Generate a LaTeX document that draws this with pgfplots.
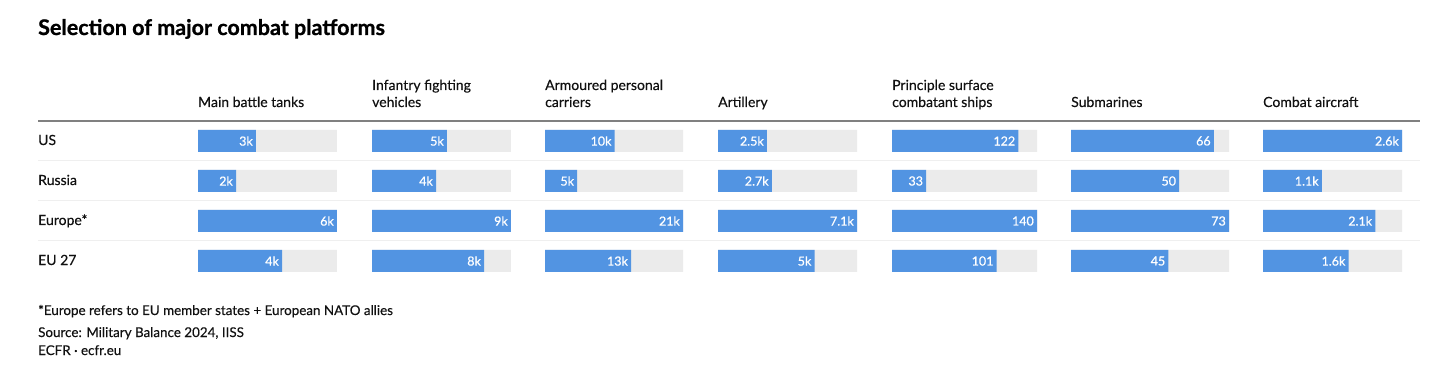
\documentclass[border=0pt]{standalone}
\usepackage{pgfplots}
\pgfplotsset{compat=1.18}
\usepackage{fontspec}
\setmainfont{Lato}[UprightFeatures={FakeBold=0.3}, BoldFeatures={FakeBold=0.9}]
\newfontfamily\valfont{Lato}[UprightFeatures={FakeBold=0.6}]
\definecolor{barblue}{HTML}{5294E2}
\definecolor{trackc}{HTML}{EBEBEB}
\definecolor{sepc}{HTML}{EFEFEF}
\definecolor{hdr}{HTML}{808080}
\definecolor{txt}{HTML}{111111}
\pgfplotsset{
  col/.style={scale only axis, anchor=north west, height=160pt, hide axis,
    xmin=0, ymin=0.5, ymax=4.5, y dir=reverse, xbar, bar width=22pt,
    bar shift=0pt, clip=false, enlargelimits=false},
  trk/.style={fill=trackc, draw=none, bar shift=0pt},
  val/.style={fill=barblue, draw=none, bar shift=0pt, nodes near coords,
    point meta=explicit symbolic,
    every node near coord/.append style={anchor=east, text=white,
      font=\valfont\fontsize{12.5}{14}\selectfont, inner sep=0pt, xshift=-3pt}},
}
\newcommand{\hfont}{\fontsize{14}{16}\selectfont}
\begin{document}
\begin{tikzpicture}[x=1pt,y=1pt]
\fill[white] (0pt,0pt) rectangle (1456pt,375pt);
% title
\node[anchor=base west, inner sep=0pt, font=\fontsize{21.5}{25}\selectfont\bfseries] at (38pt,340pt) {Selection of major combat platforms};
% headers
\begin{scope}[every node/.style={anchor=base west, inner sep=0pt, text=txt, font=\hfont}]
\node at (198pt,268pt) {Main battle tanks};
\node at (372pt,285pt) {Infantry fighting};
\node at (372pt,268pt) {vehicles};
\node at (545pt,285pt) {Armoured personal};
\node at (545pt,268pt) {carriers};
\node at (718pt,268pt) {Artillery};
\node at (892pt,285pt) {Principle surface};
\node at (892pt,268pt) {combatant ships};
\node at (1071pt,268pt) {Submarines};
\node at (1263pt,268pt) {Combat aircraft};
% row labels
\node at (38pt,230pt) {US};
\node at (38pt,190pt) {Russia};
\node at (38pt,150pt) {Europe*};
\node at (38pt,110pt) {EU 27};
\end{scope}
% footer
\begin{scope}[every node/.style={anchor=base west, inner sep=0pt, text=txt, font=\fontsize{13.4}{16}\selectfont}]
\node at (38pt,60pt) {*Europe refers to EU member states + European NATO allies};
\node at (38pt,38pt) {Source: Military Balance 2024, IISS};
\node at (38pt,20pt) {ECFR · ecfr.eu};
\end{scope}
% rules
\draw[hdr, line width=2pt] (38pt,254pt) -- (1420pt,254pt);
\draw[sepc, line width=1.6pt] (38pt,214.5pt) -- (1420pt,214.5pt);
\draw[sepc, line width=1.6pt] (38pt,174.5pt) -- (1420pt,174.5pt);
\draw[sepc, line width=1.6pt] (38pt,134.5pt) -- (1420pt,134.5pt);
% Main battle tanks
\begin{axis}[col, at={(198pt,254pt)}, width=139pt, xmax=6.4]
\addplot[trk] coordinates {(6.4,1) (6.4,2) (6.4,3) (6.4,4)};
\addplot[val] coordinates {(2.67,1) [3k] (1.75,2) [2k] (6.4,3) [6k] (3.87,4) [4k]};
\end{axis}
% IFV
\begin{axis}[col, at={(372pt,254pt)}, width=139pt, xmax=9.4]
\addplot[trk] coordinates {(9.4,1) (9.4,2) (9.4,3) (9.4,4)};
\addplot[val] coordinates {(5.07,1) [5k] (4.33,2) [4k] (9.4,3) [9k] (7.58,4) [8k]};
\end{axis}
% APC
\begin{axis}[col, at={(545pt,254pt)}, width=138pt, xmax=21]
\addplot[trk] coordinates {(21,1) (21,2) (21,3) (21,4)};
\addplot[val] coordinates {(10.6,1) [10k] (4.9,2) [5k] (21,3) [21k] (13.1,4) [13k]};
\end{axis}
% Artillery
\begin{axis}[col, at={(718pt,254pt)}, width=139pt, xmax=7.1]
\addplot[trk] coordinates {(7.1,1) (7.1,2) (7.1,3) (7.1,4)};
\addplot[val] coordinates {(2.5,1) [2.5k] (2.75,2) [2.7k] (7.1,3) [7.1k] (4.93,4) [5k]};
\end{axis}
% Principal surface combatants
\begin{axis}[col, at={(892pt,254pt)}, width=145pt, xmax=140]
\addplot[trk] coordinates {(140,1) (140,2) (140,3) (140,4)};
\addplot[val] coordinates {(122,1) [122] (33,2) [33] (140,3) [140] (101,4) [101]};
\end{axis}
% Submarines
\begin{axis}[col, at={(1071pt,254pt)}, width=158pt, xmax=73]
\addplot[trk] coordinates {(73,1) (73,2) (73,3) (73,4)};
\addplot[val] coordinates {(66,1) [66] (50,2) [50] (73,3) [73] (45,4) [45]};
\end{axis}
% Combat aircraft
\begin{axis}[col, at={(1263pt,254pt)}, width=139pt, xmax=2.6]
\addplot[trk] coordinates {(2.6,1) (2.6,2) (2.6,3) (2.6,4)};
\addplot[val] coordinates {(2.6,1) [2.6k] (1.1,2) [1.1k] (2.1,3) [2.1k] (1.6,4) [1.6k]};
\end{axis}
\end{tikzpicture}
\end{document}
